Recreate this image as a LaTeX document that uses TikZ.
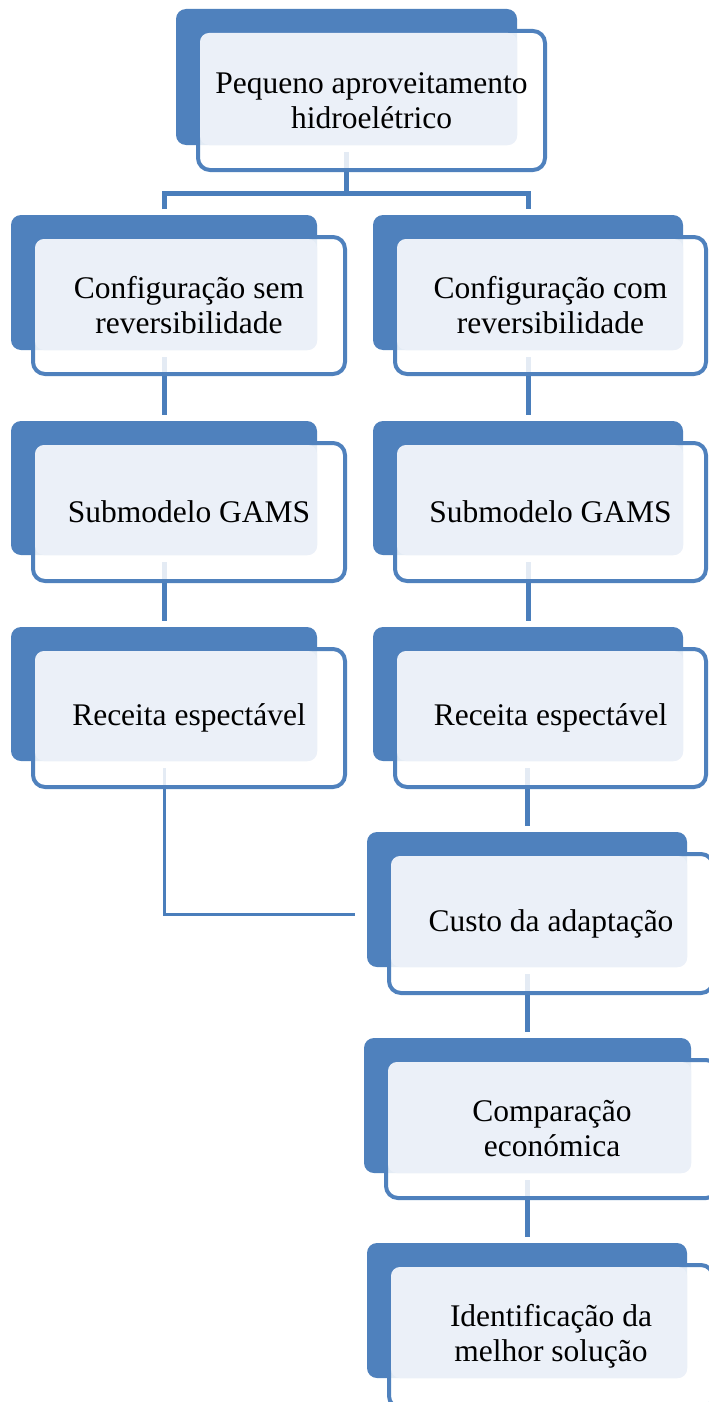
\documentclass[tikz,border=0pt]{standalone}
\usepackage{fontspec}
\setmainfont{Liberation Serif}
\usetikzlibrary{calc}
\pgfdeclarelayer{bg}
\pgfsetlayers{bg,main}
\definecolor{darkblue}{HTML}{4F81BD}
\definecolor{lineblue}{HTML}{4A7EBB}
\definecolor{lightblue}{HTML}{EBF0F8}
\tikzset{
  backbox/.style={fill=darkblue, draw=none, rounded corners=10pt, inner sep=0pt, outer sep=0pt, rectangle},
  frontbox/.style={fill=white, fill opacity=0.85, draw=darkblue, draw opacity=1, line width=4pt, rounded corners=12pt, inner sep=0pt, outer sep=0pt, rectangle},
  lightfill/.style={fill=lightblue, rounded corners=9pt},
  boxtext/.style={align=center, inner sep=0pt, text=black, font=\fontsize{31.5}{35}\selectfont},
  conn/.style={draw=lineblue, line width=5pt},
  thinconn/.style={draw=lineblue, line width=3pt}
}
\newcommand\flowbox[8]{%
  \pgfmathsetmacro\fbBW{#4-#2}\pgfmathsetmacro\fbBH{#5-#3}%
  \pgfmathsetmacro\fbBX{(#2+#4)/2}\pgfmathsetmacro\fbBY{(#3+#5)/2}%
  \pgfmathsetmacro\fbFL{#2+20}\pgfmathsetmacro\fbFT{#3+20}%
  \pgfmathsetmacro\fbFW{#6-\fbFL-4}\pgfmathsetmacro\fbFH{#7-\fbFT-4}%
  \pgfmathsetmacro\fbFX{(\fbFL+#6)/2}\pgfmathsetmacro\fbFY{(\fbFT+#7)/2}%
  \pgfmathsetmacro\fbLL{\fbFL+4}\pgfmathsetmacro\fbLT{\fbFT+4}%
  \node[backbox, minimum width=\fbBW pt, minimum height=\fbBH pt] (#1B) at (\fbBX,\fbBY) {};
  \node[frontbox, minimum width=\fbFW pt, minimum height=\fbFH pt] (#1F) at (\fbFX,\fbFY) {};
  \path[lightfill] (\fbLL,\fbLT) rectangle (#4,#5);
  \node[boxtext] (#1) at (\fbFX,\fbFY) {#8};
}
\begin{document}
\begin{tikzpicture}[x=1pt,y=-1pt]
\useasboundingbox (0,0) rectangle (709,1402);
\clip (0,0) rectangle (709,1402);
\flowbox{top}{176}{9}{517}{145}{547}{172}{Pequeno aproveitamento\\hidroelétrico}
\flowbox{semcfg}{11}{215}{317}{350}{347}{376}{Configuração sem\\reversibilidade}
\flowbox{comcfg}{373}{215}{683}{350}{708}{376}{Configuração com\\reversibilidade}
\flowbox{semgams}{11}{421}{317}{555}{347}{583}{Submodelo GAMS}
\flowbox{comgams}{373}{421}{683}{555}{708}{583}{Submodelo GAMS}
\flowbox{semrec}{11}{627}{317}{761}{347}{789}{Receita espectável}
\flowbox{comrec}{373}{627}{683}{761}{708}{789}{Receita espectável}
\flowbox{custo}{367}{832}{687}{967}{715}{995}{Custo da adaptação}
\flowbox{compar}{364}{1038}{691}{1173}{720}{1200}{Comparação\\económica}
\flowbox{ident}{367}{1243}{687}{1378}{715}{1410}{Identificação da\\melhor solução}
\coordinate (bar) at ($(topB.south)+(0,48)$);
\coordinate (custoIn) at ($(custoB.west)+(-12,14.5)$);
\begin{pgfonlayer}{bg}
\fill[white] (0,0) rectangle (709,1402);
\draw[conn] ($(topB.south)+(0,7)$) -- (bar);
\draw[conn] ($(semcfgB.north)+(0,-6)$) |- (bar) -| ($(comcfgB.north)+(0,-6)$);
\draw[conn] ($(semcfgB.south)+(0,7)$) -- ($(semgamsB.north)+(0,-6)$);
\draw[conn] ($(comcfgB.south)+(0,7)$) -- ($(comgamsB.north)+(0,-6)$);
\draw[conn] ($(semgamsB.south)+(0,7)$) -- ($(semrecB.north)+(0,-6)$);
\draw[conn] ($(comgamsB.south)+(0,7)$) -- ($(comrecB.north)+(0,-6)$);
\draw[conn] ($(custoB.north |- comrecB.south)+(0,7)$) -- ($(custoB.north)+(0,-6)$);
\draw[thinconn] ($(semrecB.south)+(0,7)$) |- (custoIn);
\draw[conn] ($(custoB.south)+(0,7)$) -- ($(custoB.south |- comparB.north)+(0,-6)$);
\draw[conn] ($(comparB.south)+(0,7)$) -- ($(comparB.south |- identB.north)+(0,-6)$);
\end{pgfonlayer}
\end{tikzpicture}
\end{document}
